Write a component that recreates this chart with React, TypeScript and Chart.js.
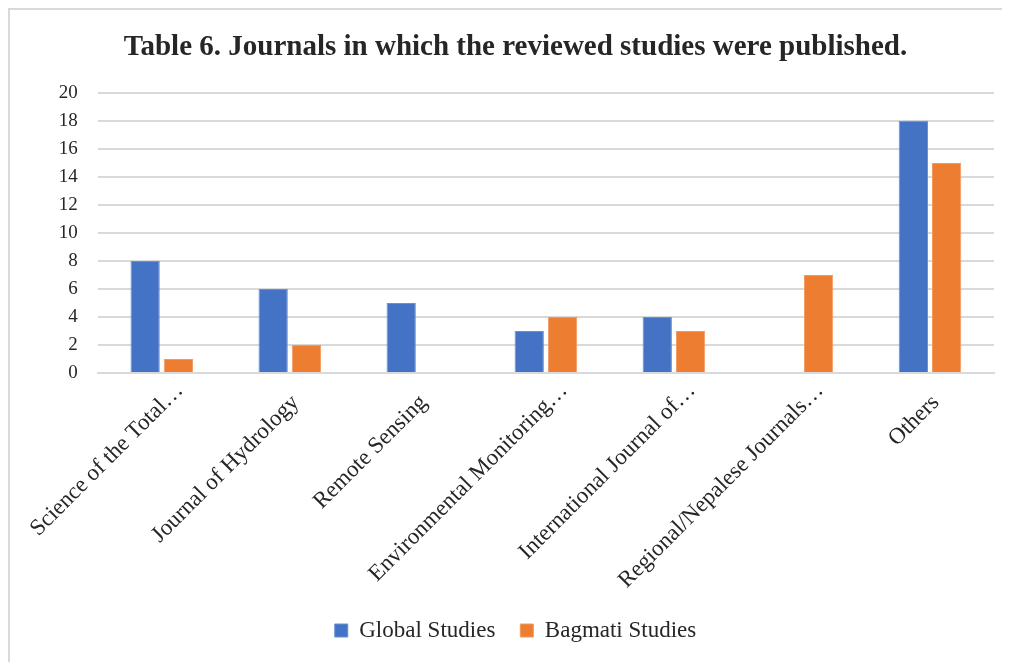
import React, { useEffect, useRef } from "react";
import { Chart, registerables } from "chart.js";

Chart.register(...registerables);

const categories = [
  "Science of the Total…",
  "Journal of Hydrology",
  "Remote Sensing",
  "Environmental Monitoring…",
  "International Journal of…",
  "Regional/Nepalese Journals…",
  "Others",
];
const globalStudies = [8, 6, 5, 3, 4, 0, 18];
const bagmatiStudies = [1, 2, 0, 4, 3, 7, 15];
const titleText = "Table 6. Journals in which the reviewed studies were published.";

const FONT = "'Liberation Serif', 'Times New Roman', serif";

export default function App() {
  const ref = useRef<HTMLCanvasElement | null>(null);
  useEffect(() => {
    if (!ref.current) return;
    const chart = new Chart(ref.current, {
      type: "bar",
      data: {
        labels: categories,
        datasets: [
          {
            label: "Global Studies",
            data: globalStudies,
            backgroundColor: "#4472C4",
            borderColor: "#6a8fd3",
            borderWidth: 1,
            categoryPercentage: 0.52,
            barPercentage: 0.88,
          },
          {
            label: "Bagmati Studies",
            data: bagmatiStudies,
            backgroundColor: "#ED7D31",
            borderColor: "#f29a5c",
            borderWidth: 1,
            categoryPercentage: 0.52,
            barPercentage: 0.88,
          },
        ],
      },
      options: {
        animation: false,
        responsive: true,
        maintainAspectRatio: false,
        layout: { padding: { left: 27, right: 12, top: 8, bottom: 24 } },
        plugins: {
          title: {
            display: true,
            text: titleText,
            color: "#262626",
            font: { family: FONT, size: 29, weight: "bold" },
            padding: { top: 12, bottom: 28 },
          },
          legend: {
            position: "bottom",
            labels: {
              boxWidth: 13,
              boxHeight: 13,
              color: "#262626",
              font: { family: FONT, size: 23 },
              padding: 25,
            },
          },
          tooltip: { enabled: false },
        },
        scales: {
          x: {
            grid: { display: false, drawTicks: true, tickLength: 4 },
            border: { display: true, color: "#d9d9d9", width: 2 },
            ticks: {
              color: "#262626",
              font: { family: FONT, size: 23 },
              maxRotation: 45,
              minRotation: 45,
              padding: 0,
              labelOffset: 18,
              callback: (_v: any, i: number) => {
                const l = categories[i];
                return l.endsWith("…") ? l : l + "   ";
              },
            },
          },
          y: {
            min: 0,
            max: 20,
            grid: { color: "#d9d9d9", lineWidth: 2, drawTicks: false },
            border: { display: false },
            ticks: {
              stepSize: 2,
              color: "#262626",
              font: { family: FONT, size: 19 },
              padding: 20,
            },
          },
        },
      },
    });
    return () => chart.destroy();
  }, []);
  return (
    <div
      style={{
        width: 1000,
        height: 670,
        border: "2px solid #d9d9d9",
        boxSizing: "border-box",
        position: "relative",
        background: "#fff",
      }}
    >
      <canvas ref={ref} />
    </div>
  );
}
